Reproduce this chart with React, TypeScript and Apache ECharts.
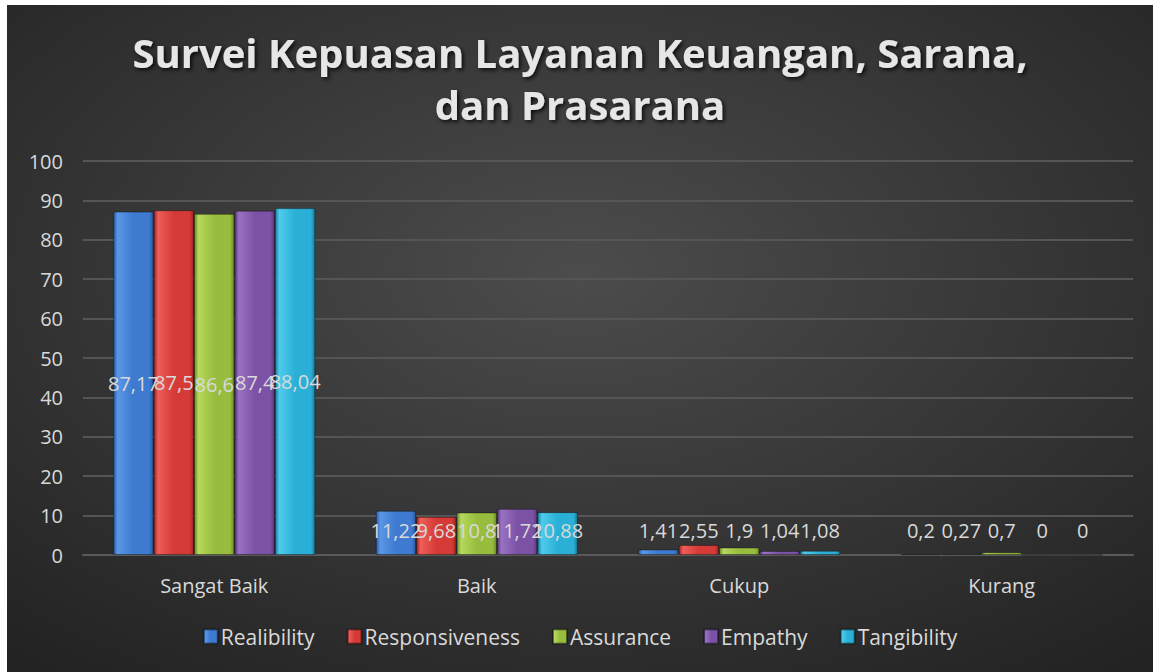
import React, { useEffect, useRef } from "react";
import * as echarts from "echarts";

const categories = ["Sangat Baik", "Baik", "Cukup", "Kurang"];
const seriesNames = ["Realibility", "Responsiveness", "Assurance", "Empathy", "Tangibility"];
const realibility = [87.17, 11.22, 1.41, 0.2];
const responsiveness = [87.5, 9.68, 2.55, 0.27];
const assurance = [86.6, 10.8, 1.9, 0.7];
const empathy = [87.4, 11.72, 1.04, 0];
const tangibility = [88.04, 10.88, 1.08, 0];
const yTicks = [0, 10, 20, 30, 40, 50, 60, 70, 80, 90, 100];

const allValues = [realibility, responsiveness, assurance, empathy, tangibility];
const palette = [
  { base: "#3d7ad0", light: "#5b97e6", dark: "#2a5a9c" },
  { base: "#d63a36", light: "#ee5e5a", dark: "#9c2522" },
  { base: "#98bd3e", light: "#b6d85c", dark: "#6f8b2a" },
  { base: "#7b52a6", light: "#9a72c2", dark: "#583a7a" },
  { base: "#2ab0d6", light: "#4fcbec", dark: "#1a7e9c" },
];

const FONT = "'Open Sans', 'Noto Sans', sans-serif";

export default function App() {
  const ref = useRef<HTMLDivElement>(null);
  useEffect(() => {
    if (!ref.current) return;
    const chart = echarts.init(ref.current, undefined, { renderer: "svg" });
    const series = seriesNames.map((name, si) => {
      const c = palette[si];
      return {
        name,
        type: "bar",
        barGap: "0%",
        barCategoryGap: "23%",
        itemStyle: {
          color: new echarts.graphic.LinearGradient(0, 0, 1, 0, [
            { offset: 0, color: c.dark },
            { offset: 0.1, color: c.light },
            { offset: 0.5, color: c.base },
            { offset: 0.9, color: c.base },
            { offset: 1, color: c.dark },
          ]),
          borderColor: "rgba(0,0,0,0.35)",
          borderWidth: 1,
        },
        data: allValues[si].map((v, ci) => ({
          value: v,
          label:
            ci === 0
              ? { position: "inside" }
              : { position: "insideBottom", distance: 15 },
        })),
        label: {
          show: true,
          color: "#d9d9d9",
          fontFamily: FONT,
          fontSize: 20,
          formatter: (p: any) => String(p.value).replace(".", ","),
        },
      };
    });
    chart.setOption({
      animation: false,
      backgroundColor: new echarts.graphic.RadialGradient(0.5, 0.4, 0.75, [
        { offset: 0, color: "#4c4c4c" },
        { offset: 1, color: "#232323" },
      ]),
      title: {
        text: "Survei Kepuasan Layanan Keuangan, Sarana,\ndan Prasarana",
        left: "center",
        top: 16,
        textStyle: {
          color: "#e6e6e6",
          fontFamily: FONT,
          fontWeight: "bold",
          fontSize: 40,
          lineHeight: 52,
          textShadowColor: "rgba(0,0,0,0.8)",
          textShadowBlur: 4,
          textShadowOffsetX: 2,
          textShadowOffsetY: 2,
        },
      },
      legend: {
        bottom: 20,
        left: "center",
        itemWidth: 14,
        itemHeight: 14,
        itemGap: 32,
        icon: "rect",
        textStyle: { color: "#d9d9d9", fontFamily: FONT, fontSize: 21, padding: [0, 0, 0, -2] },
        data: seriesNames,
      },
      grid: { left: 76, right: 20, top: 156, bottom: 117 },
      xAxis: {
        type: "category",
        data: categories,
        axisTick: { show: false },
        axisLine: { lineStyle: { color: "#5a5a5a", width: 2 } },
        axisLabel: { color: "#d9d9d9", fontFamily: FONT, fontSize: 20, margin: 20 },
      },
      yAxis: {
        type: "value",
        min: yTicks[0],
        max: yTicks[yTicks.length - 1],
        interval: 10,
        axisLabel: { color: "#d9d9d9", fontFamily: FONT, fontSize: 20, margin: 20 },
        splitLine: { lineStyle: { color: "#555555", width: 2 } },
        axisLine: { show: false },
        axisTick: { show: false },
      },
      series,
    });
    return () => chart.dispose();
  }, []);
  return (
    <div
      ref={ref}
      style={{ position: "absolute", left: 7, top: 5, width: 1146, height: 667 }}
    />
  );
}
